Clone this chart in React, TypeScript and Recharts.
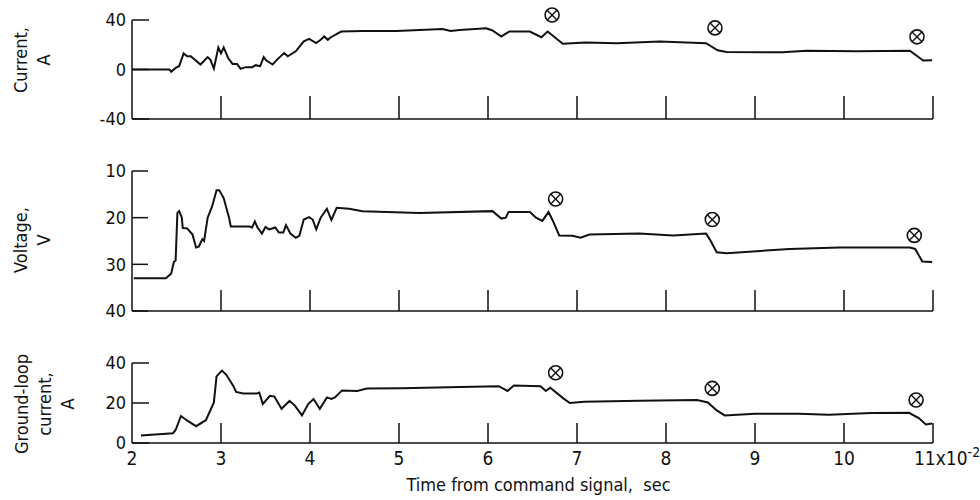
import React from "react";
import { LineChart, Line, XAxis, YAxis, ReferenceDot } from "recharts";

// time axis, x10^-2 sec
const timeTicks = [2, 3, 4, 5, 6, 7, 8, 9, 10, 11];

// Current, A
const currentT = [
  2.0, 2.42, 2.44, 2.49, 2.53, 2.58, 2.62, 2.66, 2.77, 2.85, 2.88, 2.92, 2.97, 3.0, 3.03, 3.08, 3.13, 3.18,
  3.22, 3.28, 3.35, 3.39, 3.44, 3.48, 3.51, 3.58, 3.63, 3.71, 3.75, 3.84, 3.93, 3.99, 4.07, 4.12, 4.16, 4.2,
  4.23, 4.35, 4.59, 4.97, 5.49, 5.58, 5.68, 5.98, 6.05, 6.15, 6.24, 6.47, 6.6, 6.67, 6.84, 7.1, 7.45, 7.93,
  8.45, 8.58, 8.68, 9.31, 9.58, 10.14, 10.74, 10.89, 10.99,
];
const currentA = [
  0, 0, -1.8, 1.3, 2.7, 13, 10.7, 10.7, 4, 10, 8, 0.8, 17.8, 13, 17.8, 9.3, 4.5, 4.5,
  0.5, 1.9, 1.9, 3.5, 2.7, 10, 7.2, 4, 8, 13.3, 10.7, 14.7, 22.7, 24.8, 21.3, 24, 26.7, 24,
  25.9, 30.7, 31.2, 31.2, 32.8, 31.2, 32, 33.3, 31.5, 26.7, 30.7, 30.7, 26.1, 30.7, 20.8, 21.8, 21.3, 22.7,
  21.3, 15.5, 14.1, 13.9, 15.2, 14.7, 15.2, 7.2, 7.5,
];
const currentMarkT = [6.72, 8.55, 10.82];
const currentMarkA = [44, 33.6, 26.4];

// Voltage, V
const voltageT = [
  2.02, 2.38, 2.44, 2.47, 2.49, 2.51, 2.53, 2.56, 2.57, 2.62, 2.68, 2.72, 2.75, 2.79, 2.81, 2.85, 2.9, 2.95,
  2.98, 3.03, 3.09, 3.11, 3.32, 3.35, 3.38, 3.41, 3.46, 3.5, 3.54, 3.61, 3.65, 3.7, 3.73, 3.78, 3.84, 3.88,
  3.93, 3.99, 4.03, 4.07, 4.12, 4.19, 4.24, 4.3, 4.44, 4.59, 5.23, 6.05, 6.15, 6.2, 6.23, 6.47, 6.54, 6.61,
  6.68, 6.73, 6.8, 6.95, 7.04, 7.14, 7.7, 8.08, 8.45, 8.49, 8.57, 8.68, 9.39, 9.95, 10.74, 10.8, 10.88, 10.99,
];
const voltageV = [
  33, 33, 32, 29.5, 29.2, 19, 18.6, 20, 22.2, 22.3, 23.6, 26.4, 26.2, 24.6, 25, 20, 17.6, 14.1,
  14.1, 15.8, 20, 21.9, 21.9, 22.1, 20.8, 22.1, 23.4, 22, 22.5, 22.1, 23.2, 23.2, 21.6, 23.4, 24.3, 23.9,
  20.4, 19.9, 20.4, 22.5, 20, 18.1, 20.5, 17.9, 18.1, 18.6, 19, 18.6, 20.2, 20, 18.8, 18.8, 20, 20.7,
  18.8, 20.7, 23.8, 23.9, 24.3, 23.6, 23.4, 23.8, 23.4, 24.6, 27.4, 27.6, 26.7, 26.4, 26.4, 26.7, 29.4, 29.5,
];
const voltageMarkT = [6.76, 8.52, 10.79];
const voltageMarkV = [16, 20.4, 23.8];

// Ground-loop current, A
const groundT = [
  2.1, 2.46, 2.49, 2.55, 2.63, 2.72, 2.83, 2.92, 2.95, 3.01, 3.06, 3.14, 3.17, 3.25, 3.4, 3.43, 3.47, 3.55,
  3.6, 3.68, 3.77, 3.83, 3.91, 3.98, 4.04, 4.11, 4.19, 4.24, 4.28, 4.36, 4.53, 4.64, 5.03, 5.69, 6.12, 6.22,
  6.29, 6.59, 6.65, 6.7, 6.85, 6.92, 7.08, 7.7, 8.35, 8.47, 8.57, 8.66, 9.0, 9.49, 9.83, 10.31, 10.73, 10.84,
  10.92, 10.99,
];
const groundA = [
  3.7, 4.9, 6.5, 13.5, 10.9, 8.4, 11.4, 20.3, 33.3, 36.2, 34.1, 28.4, 25.5, 24.7, 24.7, 25.2, 19.5, 23.6,
  23.2, 17.1, 21.1, 18.7, 13.8, 19.5, 22, 17.1, 22.8, 22, 22.8, 26.3, 26, 27.2, 27.4, 28, 28.4, 26,
  28.8, 28.4, 26, 27.6, 22.2, 20, 20.6, 21.1, 21.5, 20.3, 16.3, 13.8, 14.6, 14.6, 14.1, 15, 15.1, 12.5,
  9.3, 9.8,
];
const groundMarkT = [6.76, 8.52, 10.81];
const groundMarkA = [35.1, 27.3, 21.5];

const currentData = currentT.map((t, i) => ({ t, v: currentA[i] }));
const voltageData = voltageT.map((t, i) => ({ t, v: voltageV[i] }));
const groundData = groundT.map((t, i) => ({ t, v: groundA[i] }));

const INK = "#111";
const NARROW = "'Liberation Sans Narrow', 'DejaVu Sans Condensed', sans-serif";
const TITLE_FONT = "'DejaVu Sans Condensed', 'DejaVu Sans', sans-serif";

const CircleX = (props: any) => {
  const { cx, cy } = props;
  const r = 7;
  const d = r * 0.7;
  return (
    <g>
      <circle cx={cx} cy={cy} r={r} fill="#fff" stroke={INK} strokeWidth={1.6} />
      <line x1={cx - d} y1={cy - d} x2={cx + d} y2={cy + d} stroke={INK} strokeWidth={1.4} />
      <line x1={cx - d} y1={cy + d} x2={cx + d} y2={cy - d} stroke={INK} strokeWidth={1.4} />
    </g>
  );
};

// y ticks: short inward mark to the right, label on the left
const makeYTick = (len: number) => (props: any) => {
  const { x, y, payload } = props;
  return (
    <g>
      <line x1={x} y1={y} x2={x + len} y2={y} stroke={INK} strokeWidth={1.5} />
      <text x={x - 6} y={y} dy="0.36em" textAnchor="end" fontSize={18} fontFamily={NARROW} fill={INK}>
        {payload.value}
      </text>
    </g>
  );
};

// x ticks: upright marks inside the frame, labels only on the bottom panel
const makeXTick = (len: number, labels: boolean) => (props: any) => {
  const { x, y, payload } = props;
  const v = payload.value;
  return (
    <g>
      {v !== 2 && <line x1={x} y1={y} x2={x} y2={y - len} stroke={INK} strokeWidth={1.5} />}
      {labels &&
        (v === 11 ? (
          <text x={x - 19} y={y + 22} fontSize={19} fontFamily={NARROW} fill={INK}>
            11x10
            <tspan dy={-8} fontSize={14}>
              -2
            </tspan>
          </text>
        ) : (
          <text x={x} y={y + 22} textAnchor="middle" fontSize={19} fontFamily={NARROW} fill={INK}>
            {v}
          </text>
        ))}
    </g>
  );
};

const VLabel = ({ lines, x, y }: { lines: string[]; x: number; y: number }) => (
  <div
    style={{
      position: "absolute",
      left: x,
      top: y,
      transform: "translate(-50%, -50%) rotate(-90deg)",
      textAlign: "center",
      whiteSpace: "nowrap",
      fontFamily: NARROW,
      fontSize: 18,
      lineHeight: "23px",
      color: INK,
    }}
  >
    {lines.map((l) => (
      <div key={l}>{l}</div>
    ))}
  </div>
);

const W = 980;
const MARGIN_RIGHT = 47;
const Y_W = 132;

export default function App() {
  return (
    <div style={{ position: "absolute", left: 0, top: 0, width: 980, height: 500, background: "#fff" }}>
      <VLabel lines={["Current,", "A"]} x={32} y={60} />
      <VLabel lines={["Voltage,", "V"]} x={32} y={240} />
      <VLabel lines={["Ground-loop", "current,", "A"]} x={44} y={404} />

      <div style={{ position: "absolute", left: 0, top: 0 }}>
        <LineChart width={W} height={150} data={currentData} margin={{ top: 20, right: MARGIN_RIGHT, left: 0, bottom: 0 }}>
          <XAxis
            type="number"
            dataKey="t"
            domain={[2, 11]}
            ticks={timeTicks}
            interval={0}
            height={31}
            tickSize={0}
            tickMargin={0}
            tickLine={false}
            axisLine={{ stroke: INK, strokeWidth: 1.5 }}
            tick={makeXTick(23, false)}
          />
          <YAxis
            type="number"
            domain={[-40, 40]}
            ticks={[-40, 0, 40]}
            interval={0}
            width={Y_W}
            tickSize={0}
            tickMargin={0}
            tickLine={false}
            axisLine={{ stroke: INK, strokeWidth: 1.5 }}
            tick={makeYTick(17)}
          />
          <Line type="linear" dataKey="v" stroke={INK} strokeWidth={2} dot={false} isAnimationActive={false} />
          {currentMarkT.map((t, i) => (
            <ReferenceDot key={t} x={t} y={currentMarkA[i]} r={7} ifOverflow="visible" shape={CircleX} />
          ))}
        </LineChart>
      </div>

      <div style={{ position: "absolute", left: 0, top: 150 }}>
        <LineChart width={W} height={190} data={voltageData} margin={{ top: 21, right: MARGIN_RIGHT, left: 0, bottom: 0 }}>
          <XAxis
            type="number"
            dataKey="t"
            domain={[2, 11]}
            ticks={timeTicks}
            interval={0}
            height={29}
            tickSize={0}
            tickMargin={0}
            tickLine={false}
            axisLine={{ stroke: INK, strokeWidth: 1.5 }}
            tick={makeXTick(21, false)}
          />
          <YAxis
            type="number"
            domain={[10, 40]}
            reversed
            ticks={[10, 20, 30, 40]}
            interval={0}
            width={Y_W}
            tickSize={0}
            tickMargin={0}
            tickLine={false}
            axisLine={{ stroke: INK, strokeWidth: 1.5 }}
            tick={makeYTick(16)}
          />
          <Line type="linear" dataKey="v" stroke={INK} strokeWidth={2} dot={false} isAnimationActive={false} />
          {voltageMarkT.map((t, i) => (
            <ReferenceDot key={t} x={t} y={voltageMarkV[i]} r={7} ifOverflow="visible" shape={CircleX} />
          ))}
        </LineChart>
      </div>

      <div style={{ position: "absolute", left: 0, top: 340 }}>
        <LineChart width={W} height={160} data={groundData} margin={{ top: 23, right: MARGIN_RIGHT, left: 0, bottom: 0 }}>
          <XAxis
            type="number"
            dataKey="t"
            domain={[2, 11]}
            ticks={timeTicks}
            interval={0}
            height={57}
            tickSize={0}
            tickMargin={0}
            tickLine={false}
            axisLine={{ stroke: INK, strokeWidth: 1.5 }}
            tick={makeXTick(20, true)}
            label={{
              content: (p: any) => {
                const vb = p.viewBox;
                return (
                  <text
                    x={vb.x + vb.width / 2 + 6}
                    y={vb.y + vb.height - 9}
                    textAnchor="middle"
                    fontSize={18}
                    fontFamily={TITLE_FONT}
                    fill={INK}
                    style={{ whiteSpace: "pre" }}
                  >
                    {"Time from command signal,  sec"}
                  </text>
                );
              },
            }}
          />
          <YAxis
            type="number"
            domain={[0, 40]}
            ticks={[0, 20, 40]}
            interval={0}
            width={Y_W}
            tickSize={0}
            tickMargin={0}
            tickLine={false}
            axisLine={{ stroke: INK, strokeWidth: 1.5 }}
            tick={makeYTick(17)}
          />
          <Line type="linear" dataKey="v" stroke={INK} strokeWidth={2} dot={false} isAnimationActive={false} />
          {groundMarkT.map((t, i) => (
            <ReferenceDot key={t} x={t} y={groundMarkA[i]} r={7} ifOverflow="visible" shape={CircleX} />
          ))}
        </LineChart>
      </div>
    </div>
  );
}
